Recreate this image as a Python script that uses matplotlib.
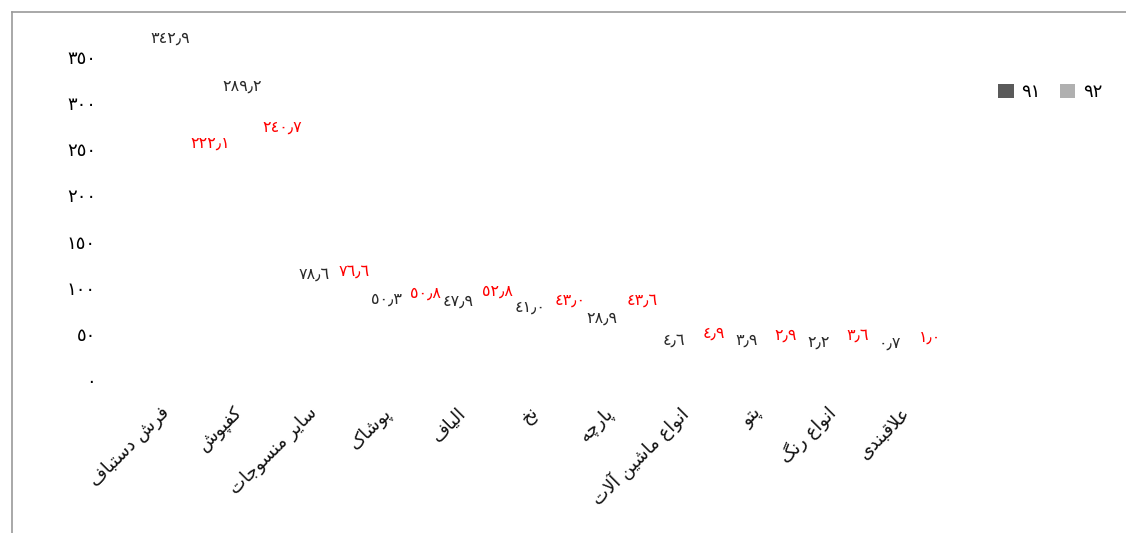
import matplotlib
matplotlib.use('Agg')
import matplotlib.pyplot as plt
from matplotlib.patches import Patch
from matplotlib.lines import Line2D
from matplotlib.transforms import ScaledTranslation
import numpy as np

# data
categories = ['فرش دستباف', 'کفپوش', 'سایر منسوجات', 'پوشاک', 'الیاف', 'نخ',
              'پارچه', 'انواع ماشین آلات', 'پتو', 'انواع رنگ', 'علاقبندی']
values_91 = [342.9, 289.2, 78.6, 50.3, 47.9, 41.0, 28.9, 4.6, 3.9, 2.2, 0.7]
values_92 = [222.1, 240.7, 76.6, 50.8, 52.8, 43.0, 43.6, 4.9, 2.9, 3.6, 1.0]
series_names = ['91', '92']
y_ticks = [0, 50, 100, 150, 200, 250, 300, 350]

# minimal arabic/persian shaping: (isolated, final, initial, medial)
FORMS = {
    'ا': ('\uFE8D', '\uFE8E', None, None),
    'آ': ('\uFE81', '\uFE82', None, None),
    'ب': ('\uFE8F', '\uFE90', '\uFE91', '\uFE92'),
    'ت': ('\uFE95', '\uFE96', '\uFE97', '\uFE98'),
    'ج': ('\uFE9D', '\uFE9E', '\uFE9F', '\uFEA0'),
    'خ': ('\uFEA5', '\uFEA6', '\uFEA7', '\uFEA8'),
    'د': ('\uFEA9', '\uFEAA', None, None),
    'ر': ('\uFEAD', '\uFEAE', None, None),
    'س': ('\uFEB1', '\uFEB2', '\uFEB3', '\uFEB4'),
    'ش': ('\uFEB5', '\uFEB6', '\uFEB7', '\uFEB8'),
    'ع': ('\uFEC9', '\uFECA', '\uFECB', '\uFECC'),
    'ف': ('\uFED1', '\uFED2', '\uFED3', '\uFED4'),
    'ق': ('\uFED5', '\uFED6', '\uFED7', '\uFED8'),
    'ل': ('\uFEDD', '\uFEDE', '\uFEDF', '\uFEE0'),
    'م': ('\uFEE1', '\uFEE2', '\uFEE3', '\uFEE4'),
    'ن': ('\uFEE5', '\uFEE6', '\uFEE7', '\uFEE8'),
    'ه': ('\uFEE9', '\uFEEA', '\uFEEB', '\uFEEC'),
    'و': ('\uFEED', '\uFEEE', None, None),
    'ی': ('\uFBFC', '\uFBFD', '\uFBFE', '\uFBFF'),
    'پ': ('\uFB56', '\uFB57', '\uFB58', '\uFB59'),
    'چ': ('\uFB7A', '\uFB7B', '\uFB7C', '\uFB7D'),
    'ک': ('\uFB8E', '\uFB8F', '\uFB90', '\uFB91'),
    'گ': ('\uFB92', '\uFB93', '\uFB94', '\uFB95'),
}
LAM_ALEF = {'ا': ('\uFEFB', '\uFEFC'), 'آ': ('\uFEF5', '\uFEF6')}


def shape(text):
    out = []
    i = 0
    n = len(text)
    while i < n:
        c = text[i]
        if c not in FORMS:
            out.append(c)
            i += 1
            continue
        prev = text[i - 1] if i > 0 else ''
        joins_prev = prev in FORMS and FORMS[prev][2] is not None
        if c == 'ل' and i + 1 < n and text[i + 1] in LAM_ALEF:
            iso, fin = LAM_ALEF[text[i + 1]]
            out.append(fin if joins_prev else iso)
            i += 2
            continue
        nxt = text[i + 1] if i + 1 < n else ''
        joins_next = FORMS[c][2] is not None and nxt in FORMS
        iso, fin, ini, med = FORMS[c]
        if joins_prev and joins_next:
            out.append(med)
        elif joins_prev:
            out.append(fin)
        elif joins_next:
            out.append(ini)
        else:
            out.append(iso)
        i += 1
    return ''.join(reversed(out))


DIGITS = str.maketrans('0123456789.', '٠١٢٣٤٥٦٧٨٩٫')


def ar_num(s):
    return s.translate(DIGITS)


plt.rcParams['font.family'] = ['DejaVu Sans']

fig = plt.figure(figsize=(11.26, 5.33), dpi=100)
W, H = 1126, 533
ax = fig.add_axes([100 / W, (H - 380) / H, (960 - 100) / W, (380 - 57) / H])

x = np.arange(len(categories))
width = 0.55
b91 = ax.bar(x - width / 2, values_91, width, color='#5a5a5a', alpha=0)
b92 = ax.bar(x + width / 2, values_92, width, color='#b0b0b0', alpha=0)

# label offset (px above bar top) shrinks a little for taller bars
for bars, vals, color, base, drop in [(b91, values_91, '#2a2a2a', 36, 11),
                                      (b92, values_92, '#ff0000', 42, 11)]:
    vmax = max(vals)
    for rect, v in zip(bars, vals):
        off = (base - drop * v / vmax) * 0.72
        ax.annotate(ar_num(f'{v:.1f}'), (rect.get_x() + rect.get_width() / 2, v),
                    xytext=(0, off), textcoords='offset points',
                    ha='center', va='center', fontsize=11.5, color=color)

ax.set_xlim(-(190 - 100) / 72, (960 - 190) / 72)
ax.set_ylim(0, 350)
ax.set_yticks(y_ticks)
ax.set_yticklabels([ar_num(str(t)) for t in y_ticks], fontsize=13)
ax.set_xticks(x)
ax.set_xticklabels([])
ax.tick_params(length=0)
ax.tick_params(axis='y', pad=3)
for s in ax.spines.values():
    s.set_visible(False)

# rotated category labels, drawn as text below the axis
for i, cat in enumerate(categories):
    shift = ScaledTranslation((-24 + 2.1 * i) / 100, -30 / 100, fig.dpi_scale_trans)
    ax.text(i, 0, shape(cat), transform=ax.get_xaxis_transform() + shift,
            rotation=45, ha='right', va='center', rotation_mode='anchor',
            fontsize=13, color='#111111')

handles = [Patch(facecolor='#5a5a5a'), Patch(facecolor='#b0b0b0')]
fig.legend(handles, [ar_num(s) for s in series_names], loc='center left',
           bbox_to_anchor=(982 / W, 1 - 92 / H), ncol=2, frameon=False,
           fontsize=13, handlelength=0.85, handleheight=0.85, handletextpad=0.4,
           columnspacing=1.1)

# outer frame (top and left edges visible)
fig.add_artist(Line2D([12 / W, 12 / W], [0, 1 - 12 / H], color='#9a9a9a', lw=1.2))
fig.add_artist(Line2D([12 / W, 1], [1 - 12 / H, 1 - 12 / H], color='#9a9a9a', lw=1.2))

fig.savefig('out.png', dpi=100)
